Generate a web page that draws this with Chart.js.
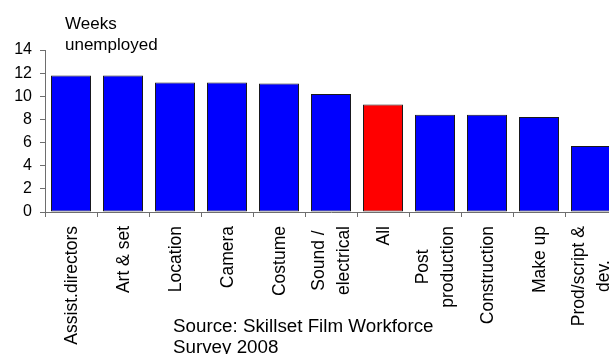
<!DOCTYPE html>
<html>
<head>
<meta charset="utf-8">
<script src="https://cdn.jsdelivr.net/npm/chart.js@4/dist/chart.umd.min.js"></script>
<style>
  html, body { margin: 0; padding: 0; background: #fff; overflow: hidden; }
  #wrap { width: 609px; height: 354px; overflow: hidden; }
  canvas { display: block; }
</style>
</head>
<body>
<div id="wrap"><canvas id="weeks" width="620" height="354"></canvas></div>
<script>
'use strict';

const roles = ['Assist.directors', 'Art & set', 'Location', 'Camera', 'Costume',
  ['Sound /', 'electrical'], 'All', ['Post', 'production'], 'Construction', 'Make up',
  ['Prod/script &', 'dev.']];
const weeks = [11.8, 11.8, 11.2, 11.2, 11.1, 10.2, 9.3, 8.4, 8.4, 8.2, 5.7];
const yTicks = [0, 2, 4, 6, 8, 10, 12, 14];
const titleLines = ['Weeks', 'unemployed'];
const sourceLines = ['Source: Skillset Film Workforce', 'Survey 2008'];

const FONT = 'Liberation Sans, Arial, sans-serif';
const AXIS = '#6e6e6e';

// vertical category names: the longest line ends just under the axis,
// shorter lines are centred on it (Excel-style wrapped labels)
const roleLabels = {
  id: 'roleLabels',
  afterDraw(chart) {
    const c = chart.ctx, xs = chart.scales.x;
    const top = xs.top + 14, lh = 25;
    c.save();
    c.fillStyle = '#000';
    c.font = '17.5px ' + FONT;
    c.textBaseline = 'middle';
    c.textAlign = 'center';
    roles.forEach((r, i) => {
      const lines = Array.isArray(r) ? r : [r];
      const maxW = Math.max(...lines.map(l => c.measureText(l).width));
      c.save();
      c.translate(xs.getPixelForTick(i), top);
      c.rotate(-Math.PI / 2);
      lines.forEach((l, j) => c.fillText(l, -maxW / 2, (j - (lines.length - 1) / 2) * lh + 1));
      c.restore();
    });
    c.restore();
  }
};

const notes = {
  id: 'notes',
  afterDraw(chart) {
    const c = chart.ctx;
    c.save();
    c.fillStyle = '#000';
    c.textAlign = 'left';
    c.textBaseline = 'alphabetic';
    c.font = '17px ' + FONT;
    titleLines.forEach((t, i) => c.fillText(t, 65, 29 + i * 21));
    c.font = '18.8px ' + FONT;
    sourceLines.forEach((t, i) => c.fillText(t, 173, 332 + i * 21));
    c.restore();
  }
};

new Chart(document.getElementById('weeks').getContext('2d'), {
  type: 'bar',
  data: {
    labels: roles,
    datasets: [{
      data: weeks,
      backgroundColor: roles.map(r => r === 'All' ? '#ff0000' : '#0000ff'),
      borderColor: '#1a1a1a',
      borderWidth: 1,
      borderSkipped: false,
      barPercentage: 0.77,
      categoryPercentage: 1
    }]
  },
  options: {
    responsive: false,
    animation: false,
    layout: { padding: { top: 50, left: 0, right: 3, bottom: 0 } },
    plugins: { legend: { display: false }, tooltip: { enabled: false }, title: { display: false } },
    scales: {
      x: {
        grid: { offset: true, drawOnChartArea: false, drawTicks: true, tickLength: 5, color: AXIS },
        border: { display: true, color: AXIS, width: 1 },
        ticks: { display: false },
        afterFit: s => { s.height = 142; }
      },
      y: {
        min: 0, max: 14,
        afterBuildTicks: s => { s.ticks = yTicks.map(v => ({ value: v })); },
        grid: { drawOnChartArea: false, drawTicks: true, tickLength: 5, color: AXIS },
        border: { display: true, color: AXIS, width: 1 },
        ticks: { color: '#000', padding: 8, font: { family: FONT, size: 16 } },
        afterFit: s => { s.width = 45; }
      }
    }
  },
  plugins: [roleLabels, notes]
});
</script>
</body>
</html>
